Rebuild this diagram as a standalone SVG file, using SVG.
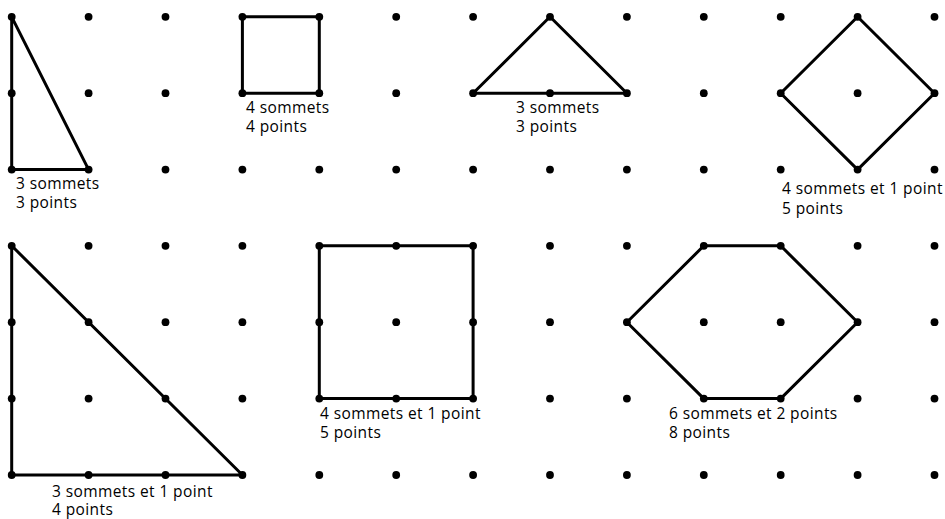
<svg xmlns="http://www.w3.org/2000/svg" xmlns:xlink="http://www.w3.org/1999/xlink" width="945" height="519" viewBox="0 0 945 519">
<style>
.shape{fill:none;stroke:#000;stroke-width:3;stroke-linejoin:round}
.lbl{font-family:"Open Sans","Noto Sans",sans-serif;font-size:15.5px;letter-spacing:0.4px;fill:#000}
</style>
<defs>
<circle id="d" r="3.9" fill="#000"/>
<g id="row">
<use xlink:href="#d" x="11.7"/><use xlink:href="#d" x="88.6"/><use xlink:href="#d" x="165.5"/><use xlink:href="#d" x="242.4"/><use xlink:href="#d" x="319.3"/><use xlink:href="#d" x="396.2"/><use xlink:href="#d" x="473.1"/><use xlink:href="#d" x="550"/><use xlink:href="#d" x="626.9"/><use xlink:href="#d" x="703.8"/><use xlink:href="#d" x="780.7"/><use xlink:href="#d" x="857.6"/><use xlink:href="#d" x="934.5"/>
</g>
</defs>
<rect width="945" height="519" fill="#fff"/>
<g id="shapes">
<g id="shape1"><polygon class="shape" points="11.7,16.8 11.7,169.6 88.6,169.6"/>
<text class="lbl"><tspan x="16" y="189">3 sommets</tspan><tspan x="16" y="208">3 points</tspan></text></g>
<g id="shape2"><polygon class="shape" points="242.4,16.8 319.3,16.8 319.3,93.2 242.4,93.2"/>
<text class="lbl"><tspan x="246" y="113">4 sommets</tspan><tspan x="246" y="131.5">4 points</tspan></text></g>
<g id="shape3"><polygon class="shape" points="473.1,93.2 550,16.8 626.9,93.2"/>
<text class="lbl"><tspan x="516" y="113">3 sommets</tspan><tspan x="516" y="131.5">3 points</tspan></text></g>
<g id="shape4"><polygon class="shape" points="857.6,16.8 934.5,93.2 857.6,169.6 780.7,93.2"/>
<text class="lbl"><tspan x="782" y="194">4 sommets et 1 point</tspan><tspan x="782" y="214">5 points</tspan></text></g>
<g id="shape5"><polygon class="shape" points="11.7,245.8 11.7,475 242.4,475"/>
<text class="lbl"><tspan x="52" y="496.5">3 sommets et 1 point</tspan><tspan x="52" y="515">4 points</tspan></text></g>
<g id="shape6"><polygon class="shape" points="319.3,245.8 473.1,245.8 473.1,398.6 319.3,398.6"/>
<text class="lbl"><tspan x="320" y="419">4 sommets et 1 point</tspan><tspan x="320" y="438">5 points</tspan></text></g>
<g id="shape7"><polygon class="shape" points="703.8,245.8 780.7,245.8 857.6,322.2 780.7,398.6 703.8,398.6 626.9,322.2"/>
<text class="lbl"><tspan x="669" y="419">6 sommets et 2 points</tspan><tspan x="669" y="438">8 points</tspan></text></g>
</g>
<g id="grid">
<use xlink:href="#row" y="16.8"/><use xlink:href="#row" y="93.2"/><use xlink:href="#row" y="169.6"/>
<use xlink:href="#row" y="245.8"/><use xlink:href="#row" y="322.2"/><use xlink:href="#row" y="398.6"/><use xlink:href="#row" y="475"/>
</g>
</svg>
